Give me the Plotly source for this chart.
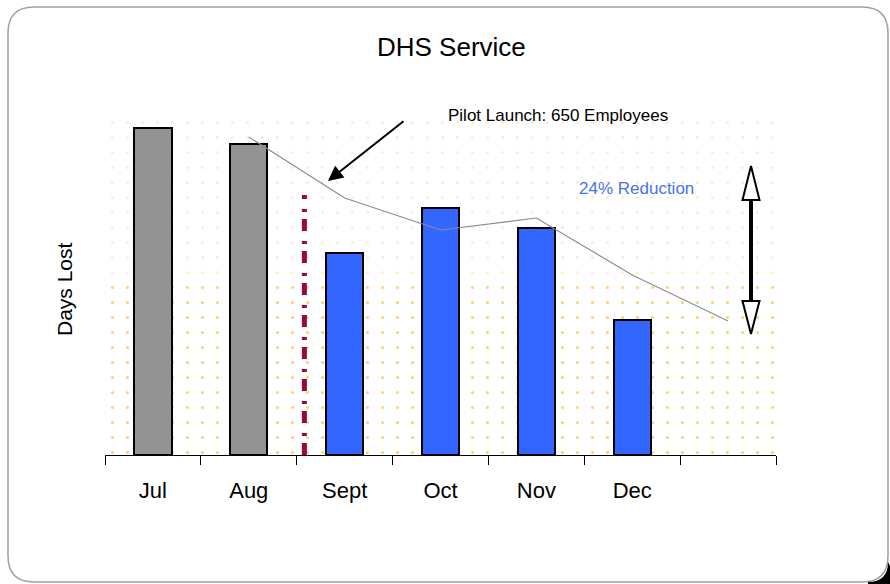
import plotly.graph_objects as go

# ---- data ----
months = ["Jul", "Aug", "Sept", "Oct", "Nov", "Dec", ""]
days_lost = [327, 311, 202, 247, 227, 135]
bar_colors = ["#939393", "#939393", "#3366FF", "#3366FF", "#3366FF", "#3366FF"]
trend_x = [1, 2, 3, 4, 5, 6]
trend_y = [318, 257, 225, 237, 180, 134]
band_low = 170      # denser orange dotted band
band_high = 342     # top of light dotted band
pilot_x = 1.58
pilot_top = 260

W, H = 890, 584
L, R, T, B = 105, 114, 100, 129
PW, PH = W - L - R, H - T - B

def px(x):
    return (x - L) / PW

def py(y):
    return (H - B - y) / PH

xs = list(range(len(months)))

fig = go.Figure()

# background dotted bands
fig.add_trace(go.Bar(x=[3], y=[band_low], base=[0], width=[7],
                     marker=dict(color="white", line=dict(width=0),
                                 pattern=dict(shape=".", fgcolor="#FFA000", bgcolor="white",
                                              size=15, solidity=0.035)),
                     hoverinfo="skip", showlegend=False))
fig.add_trace(go.Bar(x=[3], y=[band_high - band_low], base=[band_low], width=[7],
                     marker=dict(color="white", line=dict(width=0),
                                 pattern=dict(shape=".", fgcolor="#FBD7A4", bgcolor="white",
                                              size=15, solidity=0.035)),
                     hoverinfo="skip", showlegend=False))

# bars
fig.add_trace(go.Bar(x=xs[:len(days_lost)], y=days_lost, width=0.39,
                     marker=dict(color=bar_colors, line=dict(color="black", width=2)),
                     showlegend=False))

# trend line
fig.add_trace(go.Scatter(x=trend_x, y=trend_y, mode="lines",
                         line=dict(color="#8C8C8C", width=1.2), showlegend=False))

shapes = []
# pilot launch vertical line
shapes.append(dict(type="line", xref="x", yref="y", x0=pilot_x, x1=pilot_x, y0=0, y1=pilot_top,
                   line=dict(color="#960A3C", width=5, dash="12px,7px,3px,10px"), layer="above"))

# frame
r = 26
x0, x1, y0, y1 = 8, 888, 7, 582
def P(x, y):
    return f"{px(x):.5f},{py(y):.5f}"
frame = (f"M {P(x0 + r, y0)} L {P(x1 - r, y0)} Q {P(x1, y0)} {P(x1, y0 + r)} "
         f"L {P(x1, y1 - r)} Q {P(x1, y1)} {P(x1 - r, y1)} "
         f"L {P(x0 + r, y1)} Q {P(x0, y1)} {P(x0, y1 - r)} "
         f"L {P(x0, y0 + r)} Q {P(x0, y0)} {P(x0 + r, y0)} Z")
shapes.append(dict(type="path", xref="paper", yref="paper", path=frame,
                   line=dict(color="#A0A0A0", width=1.5), layer="below"))
shadow = (f"M {P(890, 566)} L {P(890, 584)} L {P(868, 584)} L {P(868, 582)} "
          f"Q {P(888, 582)} {P(888, 562)} Z")
shapes.append(dict(type="path", xref="paper", yref="paper", path=shadow,
                   fillcolor="black", line=dict(width=0)))

# double arrow (hollow heads)
ax_ = 751
shapes.append(dict(type="line", xref="paper", yref="paper", x0=px(ax_), x1=px(ax_),
                   y0=py(200), y1=py(301), line=dict(color="black", width=4)))
up = f"M {P(ax_, 166)} L {P(ax_ + 8.5, 200)} L {P(ax_ - 8.5, 200)} Z"
dn = f"M {P(ax_, 334)} L {P(ax_ + 8.5, 301)} L {P(ax_ - 8.5, 301)} Z"
for pth in (up, dn):
    shapes.append(dict(type="path", xref="paper", yref="paper", path=pth,
                       fillcolor="white", line=dict(color="black", width=2)))

sans = "Liberation Sans, Arial, sans-serif"
def txt(text, x, y, size, color="black", angle=0):
    return dict(text=text, x=px(x), y=py(y), xref="paper", yref="paper",
                xanchor="center", yanchor="middle", showarrow=False, textangle=angle,
                font=dict(family=sans, size=size, color=color))

annotations = [
    txt("DHS Service", 452, 47, 26),
    txt("Days Lost", 64, 289, 21, angle=-90),
    txt("Pilot Launch: 650 Employees", 558, 115, 17),
    txt("24% Reduction", 636, 188, 17, color="#4A72E8"),
    dict(text="", x=px(328), y=py(181), xref="paper", yref="paper",
         showarrow=True, ax=77, ay=-61, arrowhead=2, arrowsize=1.5, arrowwidth=2,
         arrowcolor="black"),
]

fig.update_layout(
    width=W, height=H,
    margin=dict(l=L, r=R, t=T, b=B),
    paper_bgcolor="white", plot_bgcolor="rgba(0,0,0,0)",
    barmode="overlay", bargap=0,
    shapes=shapes, annotations=annotations,
    xaxis=dict(range=[-0.5, 6.5], tickvals=xs, ticktext=months, ticks="",
               showgrid=False, zeroline=False, showline=True, linecolor="black", linewidth=1,
               tickfont=dict(family=sans, size=22, color="black"),
               ticklabelstandoff=16,
               minor=dict(tickvals=[i - 0.5 for i in range(8)], ticks="outside",
                          ticklen=9, tickcolor="black", tickwidth=1, showgrid=False)),
    yaxis=dict(range=[0, PH], visible=False, fixedrange=True),
)

fig.write_html("out.html", config={"displayModeBar": False},
               post_script="document.body.style.margin='0px';document.body.style.overflow='hidden';")
